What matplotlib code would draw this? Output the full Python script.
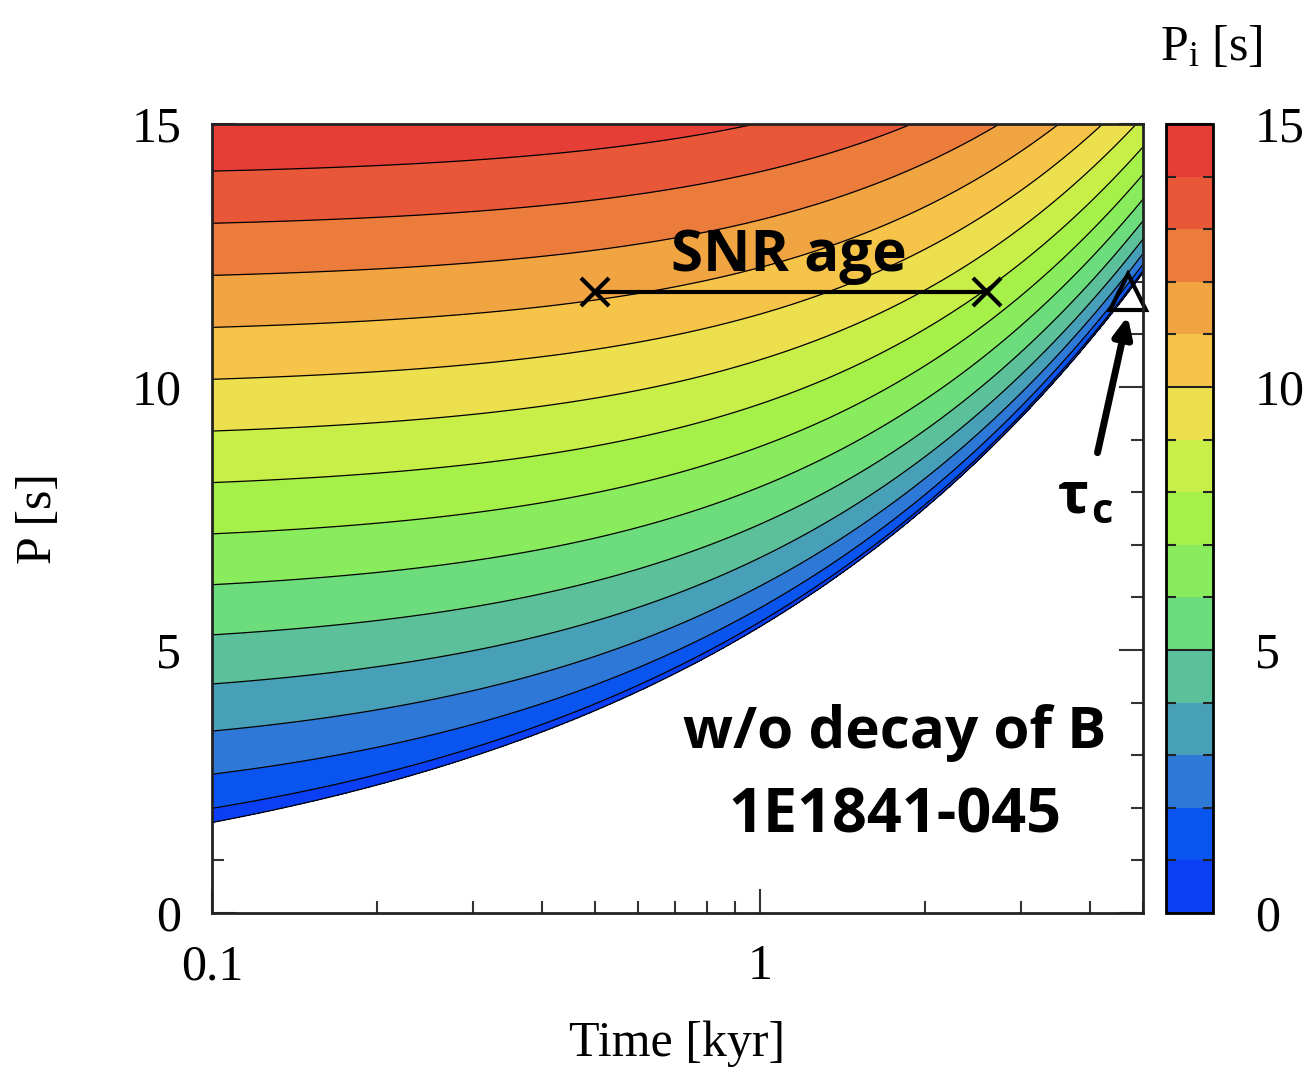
import numpy as np
import matplotlib
matplotlib.use("Agg")
import matplotlib.pyplot as plt
from matplotlib.colors import ListedColormap, BoundaryNorm
from matplotlib.cm import ScalarMappable
from matplotlib.ticker import NullFormatter, MultipleLocator

plt.rcParams['font.family'] = ['Liberation Serif', 'DejaVu Serif']
plt.rcParams['mathtext.fontset'] = 'custom'
plt.rcParams['mathtext.rm'] = 'Liberation Serif'
plt.rcParams['mathtext.it'] = 'Liberation Serif:italic'

# observed source (1E1841-045), constant B
P_now = 11.8       # s
tau_c = 4.7        # kyr
snr_age = [0.5, 2.6]  # kyr
t_range = [0.1, 5.0]
p_range = [0.0, 15.0]

pi_levels = np.arange(0, 16)  # initial period contours, s
band_colors = ['#0a3ff5', '#0a55f0', '#2e78d8', '#48a0b8', '#5cc09a',
               '#6cdc7c', '#88ec5c', '#a6f04a', '#c8ee48', '#ece04e',
               '#f6c448', '#f0a442', '#ec7c3c', '#e85838', '#e43e36']

fig = plt.figure(figsize=(13.07, 10.72), dpi=100)
ax = fig.add_axes([0.1622, 0.1483, 0.7123, 0.736])
cax = fig.add_axes([0.8921, 0.1483, 0.036, 0.736])

# P^2 - Pi^2 = P_now^2 * t / tau_c  (no field decay)
t = np.logspace(np.log10(t_range[0]), np.log10(t_range[1]), 800)
p = np.linspace(p_range[0], p_range[1], 800)
T, P = np.meshgrid(t, p)
Z = P ** 2 - P_now ** 2 * T / tau_c

ax.contourf(T, P, Z, levels=pi_levels ** 2, colors=band_colors)
ax.contour(T, P, Z, levels=pi_levels[:-1] ** 2, colors='black', linewidths=0.9)

ax.set_xscale('log')
ax.set_xlim(t_range)
ax.set_ylim(p_range)
ax.set_xticks([0.1, 1])
ax.set_xticklabels(['0.1', '1'])
ax.xaxis.set_minor_formatter(NullFormatter())
ax.set_yticks([0, 5, 10, 15])
ax.yaxis.set_minor_locator(MultipleLocator(1))
ax.set_axisbelow(True)
ax.tick_params(which='both', direction='in', right=True, top=False,
               labelsize=36, pad=22, width=1.5, color='#333333')
ax.tick_params(which='major', length=17)
ax.tick_params(which='minor', length=8.5)
for s in ax.spines.values():
    s.set_linewidth(2)
    s.set_color('#222222')
ax.set_xlabel('Time [kyr]', fontsize=36, labelpad=22)
ax.set_ylabel('P [s]', fontsize=36, labelpad=50)

# SNR age range and characteristic age
ax.plot(snr_age, [P_now, P_now], color='black', lw=3, marker='x', ms=20, mew=3)
ax.plot([tau_c], [P_now], marker='^', ms=26, mfc='none', mec='black', mew=3,
        clip_on=False)
ax.annotate('', xy=(tau_c, P_now - 0.4), xytext=(4.12, 8.7),
            arrowprops=dict(arrowstyle='-|>,head_length=1.2,head_width=0.55',
                            color='black', lw=5))

bold = dict(family=['Open Sans', 'DejaVu Sans'], weight='bold', color='black')
ax.text(1.13, 12.2, 'SNR age', fontsize=42, ha='center', va='baseline', **bold)
ax.text(1.76, 3.14, 'w/o decay of B', fontsize=42, ha='center', va='baseline', **bold)
ax.text(1.76, 1.54, '1E1841-045', fontsize=44, ha='center', va='baseline', **bold)
ax.text(3.5, 7.62, 'τ', fontsize=42, ha='left', va='baseline', **bold)
ax.text(4.02, 7.42, 'c', fontsize=30, ha='left', va='baseline', **bold)

# colorbar
sm = ScalarMappable(norm=BoundaryNorm(pi_levels, len(band_colors)),
                    cmap=ListedColormap(band_colors))
cb = fig.colorbar(sm, cax=cax)
cb.set_ticks([0, 5, 10, 15])
cb.ax.yaxis.set_minor_locator(MultipleLocator(1))
cb.ax.tick_params(which='both', direction='in', left=True, right=True,
                  labelsize=36, pad=30, width=1.5, color='#222222')
cb.ax.tick_params(which='major', length=17)
cb.ax.tick_params(which='minor', length=7)
cb.outline.set_linewidth(2)
fig.text(0.927, 0.955, r'P$_\mathrm{i}$ [s]', fontsize=36, ha='center', va='center')

fig.savefig('out.png', dpi=100)
